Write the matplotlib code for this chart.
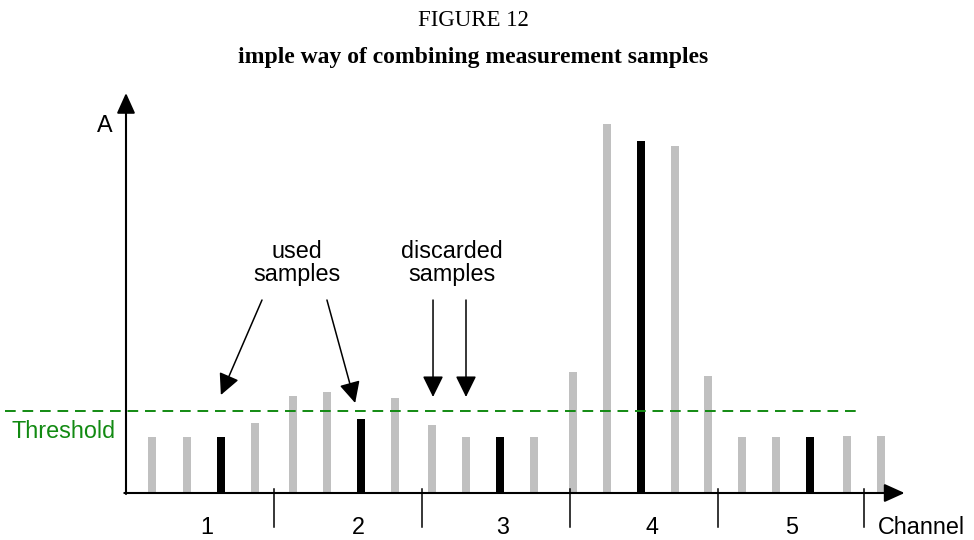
import matplotlib
matplotlib.use('Agg')
from matplotlib import pyplot as plt

# sample positions along the channel axis and their amplitudes
muestras_x = [0.76, 1.79, 2.79, 3.79, 4.91, 5.91, 6.91, 7.91, 9.0, 10.0, 11.0,
              12.0, 13.15, 14.15, 15.15, 16.15, 17.12, 18.12, 19.12, 20.12,
              21.2, 22.2]
amplitudes = [5.6, 5.6, 5.6, 7.0, 9.7, 10.1, 7.4, 9.5, 6.8, 5.6, 5.6, 5.6,
              12.1, 36.9, 35.2, 34.7, 11.7, 5.6, 5.6, 5.6, 5.7, 5.7]
usadas = [2, 6, 10, 14, 19]   # indices of the samples kept (black)
umbral = 8.2

canales = ['1', '2', '3', '4', '5']
canal_x = [2.38, 6.82, 11.09, 15.47, 19.59]
separadores = [4.35, 8.7, 13.06, 17.41, 21.7]

gris = '#c0c0c0'
verde = '#128a12'
sans = 'Liberation Sans'
serif = 'Liberation Serif'
tam = 16.8

fig = plt.figure(figsize=(9.74, 5.4), dpi=100)
ax = fig.add_axes([0, 0, 1, 1])
ax.set_xlim(-126 / 34, 848 / 34)
ax.set_ylim(-4.7, 49.3)
ax.axis('off')

colores = ['black' if i in usadas else gris for i in range(len(amplitudes))]
ax.bar(muestras_x, amplitudes, width=0.235, color=colores, zorder=2)

# axes with arrow heads
flecha = dict(arrowstyle='-|>,head_length=0.62,head_width=0.28',
              color='black', lw=1.5, mutation_scale=20, shrinkA=0, shrinkB=0)
ax.annotate('', xy=(0, 40.0), xytext=(0, -0.1), arrowprops=flecha)
ax.annotate('', xy=(22.9, 0), xytext=(-0.05, 0), arrowprops=flecha)

# threshold
ax.plot([-3.56, 21.62], [umbral, umbral], color=verde, lw=1.4,
        dashes=(5.5, 3.5), zorder=3)
ax.text(-3.37, 6.1, 'Threshold', color=verde, fontsize=tam, family=sans,
        ha='left', va='center')

# channel separators and labels
for s in separadores:
    ax.plot([s, s], [0.4, -3.4], color='black', lw=1.1)
for c, x in zip(canales, canal_x):
    ax.text(x, -3.4, c, fontsize=tam, family=sans, ha='center', va='center')
ax.text(22.12, -3.4, 'Channel', fontsize=tam, family=sans, ha='left',
        va='center')
ax.text(-0.62, 36.8, 'A', fontsize=tam, family=sans, ha='center', va='center')

# annotations
ax.text(5.03, 23.0, 'used\nsamples', fontsize=tam, family=sans, ha='center',
        va='center', linespacing=1.05)
ax.text(9.59, 23.0, 'discarded\nsamples', fontsize=tam, family=sans,
        ha='center', va='center', linespacing=1.05)
nota = dict(arrowstyle='-|>,head_length=0.65,head_width=0.32', color='black',
            lw=1.1, mutation_scale=20, shrinkA=0, shrinkB=0)
for inicio, punta in [((4.0, 19.3), (2.79, 9.8)), ((5.91, 19.3), (6.74, 9.0)),
                      ((9.03, 19.3), (9.03, 9.6)), ((10.0, 19.3), (10.0, 9.6))]:
    ax.annotate('', xy=punta, xytext=inicio, arrowprops=nota)

fig.text(0.486, 1 - 21 / 540, 'FIGURE 12', fontsize=16.5, family=serif,
         ha='center', va='center')
fig.text(0.486, 1 - 58 / 540, 'imple way of combining measurement samples',
         fontsize=17, family=serif, weight='bold', ha='center', va='center')

fig.savefig('out.png', dpi=100)
